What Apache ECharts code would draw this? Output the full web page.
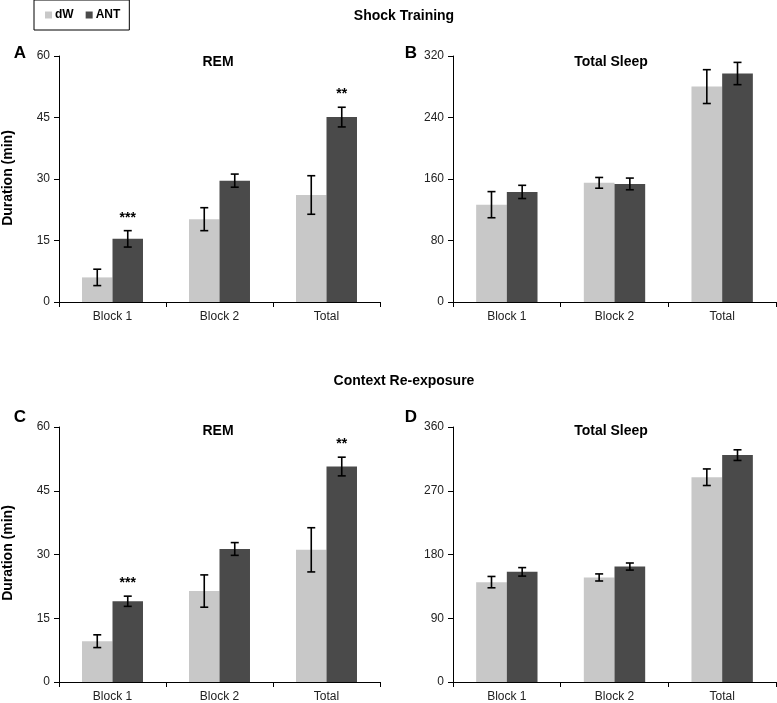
<!DOCTYPE html>
<html>
<head>
<meta charset="utf-8">
<script src="https://cdn.jsdelivr.net/npm/echarts@6/dist/echarts.min.js"></script>
<style>
html,body{margin:0;padding:0;background:#fff;}
#chart{width:777px;height:703px;}
</style>
</head>
<body>
<div id="chart"></div>
<script>
const categories = ['Block 1', 'Block 2', 'Total'];
const seriesNames = ['dW', 'ANT'];

// Panel A: Shock Training REM
const A_dW = [6.0, 20.2, 26.1];
const A_dW_err = [2.0, 2.8, 4.7];
const A_ANT = [15.4, 29.6, 45.1];
const A_ANT_err = [2.0, 1.6, 2.4];
const A_stars = ['***', '', '**'];
const A_ticks = [0, 15, 30, 45, 60];

// Panel B: Shock Training Total Sleep
const B_dW = [126.6, 155.0, 280.2];
const B_dW_err = [17.0, 7.0, 22.0];
const B_ANT = [143.2, 153.6, 297.2];
const B_ANT_err = [8.6, 7.6, 14.5];
const B_stars = ['', '', ''];
const B_ticks = [0, 80, 160, 240, 320];

// Panel C: Context Re-exposure REM
const C_dW = [9.6, 21.4, 31.1];
const C_dW_err = [1.5, 3.8, 5.2];
const C_ANT = [19.0, 31.3, 50.7];
const C_ANT_err = [1.2, 1.5, 2.2];
const C_stars = ['***', '', '**'];
const C_ticks = [0, 15, 30, 45, 60];

// Panel D: Context Re-exposure Total Sleep
const D_dW = [141.0, 147.6, 289.1];
const D_dW_err = [8.0, 5.0, 11.7];
const D_ANT = [155.5, 163.0, 320.3];
const D_ANT_err = [6.0, 5.0, 7.5];
const D_stars = ['', '', ''];
const D_ticks = [0, 90, 180, 270, 360];

const FONT = "'Liberation Sans Narrow', 'Arial Narrow', 'Liberation Sans', Arial, sans-serif";
const C_LIGHT = '#c8c8c8';
const C_DARK = '#4a4a4a';
const GAP = 0.43;

const grids = [
  {left: 59, top: 56, width: 321, height: 246},
  {left: 453, top: 56, width: 323, height: 246},
  {left: 59, top: 427, width: 321, height: 257},
  {left: 453, top: 427, width: 323, height: 257}
];

const panels = [
  {dW: A_dW, dWe: A_dW_err, ANT: A_ANT, ANTe: A_ANT_err, stars: A_stars, ticks: A_ticks},
  {dW: B_dW, dWe: B_dW_err, ANT: B_ANT, ANTe: B_ANT_err, stars: B_stars, ticks: B_ticks},
  {dW: C_dW, dWe: C_dW_err, ANT: C_ANT, ANTe: C_ANT_err, stars: C_stars, ticks: C_ticks},
  {dW: D_dW, dWe: D_dW_err, ANT: D_ANT, ANTe: D_ANT_err, stars: D_stars, ticks: D_ticks}
];

function errRender(sign, stars) {
  return function (params, api) {
    const ci = api.value(0), v = api.value(1), e = api.value(2);
    const band = api.size([1, 0])[0];
    const off = sign * band * (1 - GAP) / 4;
    const top = api.coord([ci, v + e]);
    const bot = api.coord([ci, v - e]);
    const x = top[0] + off;
    const cap = 4;
    const st = {stroke: '#000', lineWidth: 1.6};
    const children = [
      {type: 'line', shape: {x1: x, y1: top[1], x2: x, y2: bot[1]}, style: st},
      {type: 'line', shape: {x1: x - cap, y1: top[1], x2: x + cap, y2: top[1]}, style: st},
      {type: 'line', shape: {x1: x - cap, y1: bot[1], x2: x + cap, y2: bot[1]}, style: st}
    ];
    const s = stars ? stars[params.dataIndex] : '';
    if (s) {
      children.push({type: 'text', x: x, y: top[1] - 6,
        style: {text: s, fill: '#000', font: 'bold 14px ' + FONT, align: 'center', verticalAlign: 'bottom'}});
    }
    return {type: 'group', children: children};
  };
}

const xAxes = [], yAxes = [], series = [];
panels.forEach(function (p, i) {
  xAxes.push({
    type: 'category', gridIndex: i, data: categories,
    axisLine: {lineStyle: {color: '#000', width: 1}},
    axisTick: {show: true, length: 5, lineStyle: {color: '#000'}},
    axisLabel: {color: '#222', fontFamily: FONT, fontSize: 12, margin: 9}
  });
  const t = p.ticks;
  yAxes.push({
    type: 'value', gridIndex: i, min: t[0], max: t[t.length - 1], interval: t[1] - t[0],
    axisLine: {show: true, lineStyle: {color: '#000', width: 1}},
    axisTick: {show: true, length: 5, lineStyle: {color: '#000'}},
    splitLine: {show: false},
    axisLabel: {color: '#222', fontFamily: FONT, fontSize: 12, margin: 9}
  });
  series.push({
    name: 'dW', type: 'bar', xAxisIndex: i, yAxisIndex: i, data: p.dW,
    itemStyle: {color: C_LIGHT}, barGap: '0%', barCategoryGap: (GAP * 100) + '%'
  });
  series.push({
    name: 'ANT', type: 'bar', xAxisIndex: i, yAxisIndex: i, data: p.ANT,
    itemStyle: {color: C_DARK}, barGap: '0%', barCategoryGap: (GAP * 100) + '%'
  });
  series.push({
    type: 'custom', xAxisIndex: i, yAxisIndex: i, z: 5,
    renderItem: errRender(-1, null),
    data: p.dW.map(function (v, k) { return [k, v, p.dWe[k]]; })
  });
  series.push({
    type: 'custom', xAxisIndex: i, yAxisIndex: i, z: 5,
    renderItem: errRender(1, p.stars),
    data: p.ANT.map(function (v, k) { return [k, v, p.ANTe[k]]; })
  });
});

function txt(x, y, text, size, extra) {
  return Object.assign({
    type: 'text', x: x, y: y,
    style: {text: text, fill: '#000', font: 'bold ' + size + 'px ' + FONT, align: 'center', verticalAlign: 'middle'}
  }, extra || {});
}

const graphics = [
  txt(404, 16, 'Shock Training', 14),
  txt(404, 381, 'Context Re-exposure', 14),
  txt(20, 53, 'A', 17),
  txt(411, 53, 'B', 17),
  txt(20, 417, 'C', 17),
  txt(411, 417, 'D', 17),
  txt(218, 62, 'REM', 14),
  txt(611, 62, 'Total Sleep', 14),
  txt(218, 431, 'REM', 14),
  txt(611, 431, 'Total Sleep', 14),
  txt(8, 178, 'Duration (min)', 14, {rotation: Math.PI / 2}),
  txt(8, 553, 'Duration (min)', 14, {rotation: Math.PI / 2})
];

const chart = echarts.init(document.getElementById('chart'), null, {renderer: 'canvas'});
chart.setOption({
  animation: false,
  backgroundColor: '#fff',
  legend: {
    data: seriesNames, left: 34, top: 0,
    borderColor: '#000', borderWidth: 1,
    padding: [9, 9, 9, 11],
    itemWidth: 7, itemHeight: 7, itemGap: 12,
    icon: 'rect',
    textStyle: {fontFamily: FONT, fontWeight: 'bold', fontSize: 12, color: '#000', padding: [0, 0, 0, -2]}
  },
  grid: grids,
  xAxis: xAxes,
  yAxis: yAxes,
  series: series,
  graphic: graphics
});
</script>
</body>
</html>
